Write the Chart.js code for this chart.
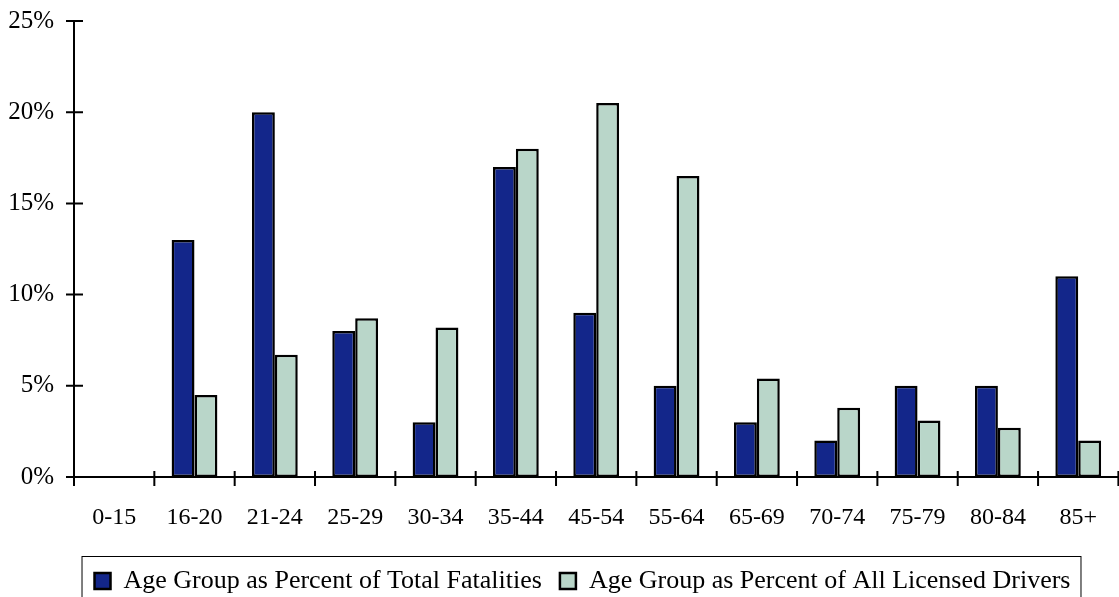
<!DOCTYPE html>
<html>
<head>
<meta charset="utf-8">
<script src="https://cdn.jsdelivr.net/npm/chart.js@4"></script>
<style>
  html, body { margin: 0; padding: 0; background: #fff; overflow: hidden; }
  #wrap { width: 1123px; height: 604px; }
</style>
</head>
<body>
<div id="wrap"><canvas id="chart" width="1123" height="604"></canvas></div>
<script>
const ageGroups = ['0-15', '16-20', '21-24', '25-29', '30-34', '35-44', '45-54', '55-64', '65-69', '70-74', '75-79', '80-84', '85+'];
const pctFatalities = [0, 13, 20, 8, 3, 17, 9, 5, 3, 2, 5, 5, 11];
const pctDrivers = [0, 4.5, 6.7, 8.7, 8.2, 18, 20.5, 16.5, 5.4, 3.8, 3.1, 2.7, 2.0];
const yTicks = [0, 5, 10, 15, 20, 25];

const serif = 'Liberation Serif';

// tick marks crossing the axes, plus the box around the legend
const axisMarks = {
    id: 'axisMarks',
    afterLayout(chart) {
        // legend sits a bit right of the canvas centre
        const lg = chart.legend;
        lg.left += 21;
        lg.right += 21;
    },
    afterDraw(chart) {
        const ctx = chart.ctx;
        const x = chart.scales.x, y = chart.scales.y;
        ctx.save();
        ctx.strokeStyle = '#000';
        ctx.lineWidth = 2;
        ctx.beginPath();
        yTicks.forEach(v => {
            const py = y.getPixelForValue(v);
            ctx.moveTo(x.left - 8, py);
            ctx.lineTo(x.left + 9, py);
        });
        const w = (x.right - x.left) / ageGroups.length;
        for (let i = 0; i <= ageGroups.length; i++) {
            const px = x.left + i * w;
            ctx.moveTo(px, y.bottom - 6);
            ctx.lineTo(px, y.bottom + 9);
        }
        ctx.stroke();

        const boxes = chart.legend.legendHitBoxes;
        if (boxes && boxes.length) {
            const l = Math.min(...boxes.map(b => b.left)) - 13;
            const r = Math.max(...boxes.map(b => b.left + b.width)) + 10;
            const t = Math.min(...boxes.map(b => b.top)) - 12;
            ctx.lineWidth = 1;
            ctx.strokeRect(l + 0.5, t + 0.5, r - l, chart.height);
        }
        ctx.restore();
    }
};

const ctx = document.getElementById('chart').getContext('2d');
const chart = new Chart(ctx, {
    type: 'bar',
    data: {
        labels: ageGroups,
        datasets: [{
            label: 'Age Group as Percent of Total Fatalities',
            data: pctFatalities,
            backgroundColor: '#13268a',
            borderColor: '#000',
            borderWidth: 2.5,
            borderSkipped: false
        }, {
            label: 'Age Group as Percent of All Licensed Drivers',
            data: pctDrivers,
            backgroundColor: '#b9d6c9',
            borderColor: '#000',
            borderWidth: 2.5,
            borderSkipped: false
        }]
    },
    options: {
        responsive: false,
        animation: false,
        categoryPercentage: 0.57,
        barPercentage: 1,
        layout: { padding: { left: 0, top: 21, right: 0, bottom: 0 } },
        scales: {
            x: {
                grid: { display: false, drawTicks: false },
                border: { display: true, color: '#000', width: 2 },
                ticks: { color: '#000', font: { family: serif, size: 24 }, padding: 26, maxRotation: 0 },
                afterFit(scale) { scale.height = 73; }
            },
            y: {
                min: 0,
                max: 25,
                grid: { display: false, drawTicks: false },
                border: { display: true, color: '#000', width: 2 },
                ticks: {
                    stepSize: 5,
                    padding: 20,
                    color: '#000',
                    font: { family: serif, size: 25 },
                    callback: v => v + '%'
                },
                afterFit(scale) {
                    scale.width = 74;
                    scale.paddingTop = 0;
                    scale.paddingBottom = 0;
                }
            }
        },
        plugins: {
            legend: {
                display: true,
                position: 'bottom',
                labels: {
                    boxWidth: 16,
                    boxHeight: 16,
                    padding: 18,
                    color: '#000',
                    font: { family: serif, size: 26 }
                }
            },
            tooltip: { enabled: false }
        }
    },
    plugins: [axisMarks]
});
</script>
</body>
</html>
